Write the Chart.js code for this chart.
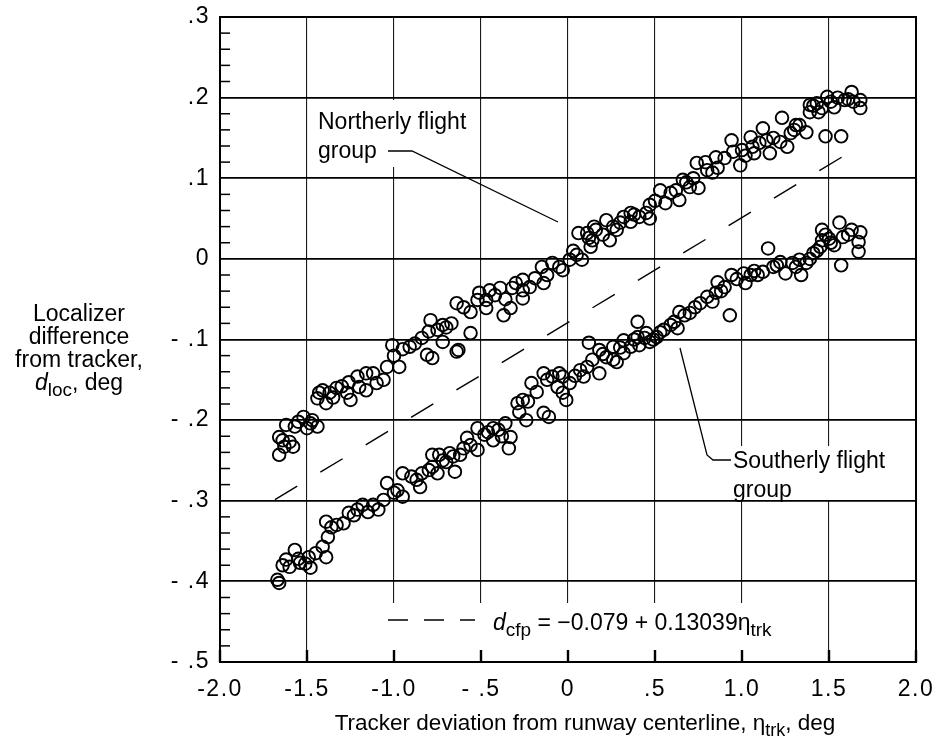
<!DOCTYPE html>
<html>
<head>
<meta charset="utf-8">
<title>Localizer difference from tracker</title>
<script src="https://cdn.jsdelivr.net/npm/chart.js"></script>
<style>
  body { margin: 0; background: #fff; }
  #wrap { width: 942px; height: 750px; }
</style>
</head>
<body>
<div id="wrap"><canvas id="scatter"></canvas></div>
<script>
// tick labels, bottom to top for y
var xTickLabels = ['-2.0', '-1.5', '-1.0', '- .5', '0', '.5', '1.0', '1.5', '2.0'];
var yTickLabels = ['- .5', '- .4', '- .3', '- .2', '- .1', '0', '.1', '.2', '.3'];

// northerly flight group (eta_trk, d_loc)
var northEta = [0.06, 0.12, 0.05, 0.01, -0.09, -0.03, -0.15, -0.19, -0.26, -0.14, -0.26, -0.32, -0.39, -0.45, -0.51, -0.47, -0.52, -0.64, -0.56, -0.47, -0.37, -0.33, -0.26, -0.56, -0.79, -0.72, -0.67, -0.75, -0.84, -0.72, -0.63, -1.01, -0.91,
  -0.97, -1.04, -0.81, -0.64, -0.78, -1.12, -1.10, -1.16, -1.21, -1.26, -1.20, -1.27, -1.33, -1.37, -1.43, -1.39, -1.25, -1.44, -1.41, -1.16, -1.06, -1.52, -1.48, -1.55, -1.44, -1.62, -1.66, -1.60, -1.58, -1.66, -1.63,
  0.11, 0.14, 0.16, 0.24, 0.22, 0.28, 0.36, 0.41, 0.47, 0.47, 0.53, 0.56, 0.59, 0.64, 0.66, 0.70, 0.75, 0.74, 0.79, 0.85, 0.86, 0.83, 0.94, 0.95, 0.99, 1.05, 1.06, 1.07, 1.12, 1.14, 1.16, 1.22, 1.23, 1.26, 1.28, 1.33, 1.37, 1.39, 1.43, 1.44, 1.48, 1.49, 1.53, 1.57, 1.59, 1.63, 1.68, 1.68, 1.64, 1.39, 1.46, 1.31, 1.10, 0.08, 0.13, 0.15, 0.32, 0.36, 0.45,
  -0.30, -0.22, -0.12, -0.05, 0.03, -0.42, -0.36, -0.60, -0.70, -0.80, -0.88, -0.95, -1.00, -1.30, -1.35, -1.47, -1.50, -1.57, -1.64,
  0.20, 0.26, 0.30, 0.38, 0.50, 0.62, 0.68, 0.72, 0.80, 0.90, 1.00, 1.02, 1.18, 1.30, 1.41, 1.51, 1.55, 1.61];
var northDloc = [0.032, 0.026, 0.005, -0.001, -0.005, -0.014, -0.010, -0.024, -0.026, -0.030, -0.039, -0.036, -0.036, -0.039, -0.042, -0.051, -0.051, -0.055, -0.066, -0.061, -0.070, -0.061, -0.049, -0.092, -0.076, -0.082, -0.080, -0.088, -0.098, -0.103, -0.113, -0.107, -0.109,
  -0.134, -0.134, -0.119, -0.115, -0.123, -0.142, -0.154, -0.142, -0.146, -0.153, -0.159, -0.166, -0.160, -0.166, -0.166, -0.179, -0.175, -0.173, -0.163, -0.163, -0.150, -0.196, -0.204, -0.202, -0.208, -0.206, -0.221, -0.227, -0.233, -0.243, -0.233,
  0.032, 0.023, 0.036, 0.023, 0.048, 0.036, 0.057, 0.052, 0.067, 0.050, 0.085, 0.069, 0.082, 0.073, 0.098, 0.089, 0.088, 0.119, 0.120, 0.126, 0.113, 0.107, 0.147, 0.133, 0.116, 0.151, 0.139, 0.131, 0.162, 0.147, 0.131, 0.145, 0.175, 0.139, 0.156, 0.166, 0.157, 0.182, 0.193, 0.182, 0.152, 0.201, 0.188, 0.152, 0.197, 0.207, 0.197, 0.187, 0.195, 0.191, 0.187, 0.166, 0.144, -0.001, 0.015, 0.040, 0.052, 0.046, 0.057,
  -0.030, -0.035, -0.020, -0.010, 0.010, -0.045, -0.050, -0.060, -0.085, -0.090, -0.105, -0.112, -0.120, -0.158, -0.172, -0.200, -0.210, -0.208, -0.225,
  0.030, 0.040, 0.045, 0.055, 0.072, 0.085, 0.095, 0.100, 0.110, 0.125, 0.135, 0.128, 0.150, 0.160, 0.190, 0.195, 0.200, 0.198];

// southerly flight group (eta_trk, d_loc)
var southEta = [-1.67, -1.66, -1.62, -1.60, -1.57, -1.54, -1.49, -1.48, -1.39, -1.41, -1.38, -1.39, -1.36, -1.29, -1.26, -1.21, -1.18, -1.15, -1.09, -1.06, -1.04, -0.98, -0.95, -0.95, -0.87, -0.85, -0.84, -0.78, -0.75, -0.78, -0.74, -0.68, -0.62, -0.65, -0.70, -0.58, -0.56, -0.52, -0.52, -0.48, -0.43, -0.43, -0.36, -0.33, -0.34, -0.29, -0.26, -0.23, -0.21, -0.24, -0.14, -0.11, -0.14, -0.09, -0.05, -0.06, -0.03, -0.01, 0.01, 0.07, 0.09, -0.03,
  0.18, 0.26, 0.32, 0.40, 0.40, 0.45, 0.51, 0.53, 0.59, 0.63, 0.64, 0.70, 0.73, 0.80, 0.83, 0.85, 0.86, 0.90, 0.93, 0.94, 1.01, 1.02, 1.05, 1.09, 1.12, 1.15, 1.18, 1.22, 1.25, 1.29, 1.34, 1.33, 1.37, 1.41, 1.45, 1.46, 1.48, 1.51, 1.53, 1.56, 1.57, 1.58, 1.63, 1.68, 1.67, 1.67, 1.46, 0.12, 0.11, 0.18, 0.22, 0.26, 0.32, 0.36, 0.41, 0.47, 0.28,
  -1.64, -1.55, -1.51, -1.45, -1.33, -1.23, -1.12, -1.00, -0.90, -0.80, -0.72, -0.66, -0.60, -0.46, -0.40, -0.38, -0.28, -0.18, -0.12, 0.04, 0.14, 0.20, 0.30, 0.38, 0.44, 0.49, 0.55, 0.61, 0.67, 0.76, 0.88, 0.97, 1.07, 1.20, 1.31, 1.39, 1.43, 1.50, 1.61];
var southDloc = [-0.398, -0.402, -0.373, -0.382, -0.361, -0.377, -0.370, -0.383, -0.370, -0.357, -0.345, -0.326, -0.333, -0.328, -0.315, -0.311, -0.305, -0.314, -0.311, -0.299, -0.278, -0.287, -0.295, -0.266, -0.274, -0.283, -0.266, -0.258, -0.266, -0.243, -0.243, -0.241, -0.243, -0.264, -0.252, -0.222, -0.231, -0.210, -0.237, -0.218, -0.225, -0.210, -0.204, -0.221, -0.235, -0.179, -0.175, -0.177, -0.154, -0.200, -0.191, -0.196, -0.142, -0.146, -0.142, -0.159, -0.166, -0.175, -0.154, -0.138, -0.146, -0.146,
  -0.113, -0.109, -0.101, -0.078, -0.097, -0.092, -0.097, -0.091, -0.082, -0.086, -0.066, -0.067, -0.060, -0.047, -0.053, -0.042, -0.029, -0.035, -0.070, -0.020, -0.018, -0.030, -0.020, -0.020, -0.016, 0.013, -0.010, -0.004, -0.018, -0.005, -0.020, -0.001, -0.005, 0.007, 0.015, 0.036, 0.030, 0.020, 0.017, 0.045, -0.008, 0.027, 0.036, 0.033, 0.021, 0.009, 0.023, -0.104, -0.134, -0.142, -0.122, -0.125, -0.117, -0.109, -0.107, -0.103, -0.128,
  -0.380, -0.372, -0.378, -0.365, -0.330, -0.318, -0.305, -0.290, -0.270, -0.262, -0.250, -0.245, -0.235, -0.215, -0.212, -0.220, -0.190, -0.165, -0.150, -0.145, -0.125, -0.118, -0.110, -0.100, -0.098, -0.100, -0.088, -0.078, -0.070, -0.055, -0.040, -0.025, -0.015, -0.008, -0.010, 0.000, 0.010, 0.025, 0.030];

// fitted line d_cfp = a + b * eta_trk, drawn over this range
var fitA = -0.079;
var fitB = 0.13039;
var fitRange = [-1.684, 1.576];

var FONT = '"Liberation Sans", Arial, Helvetica, sans-serif';

function pairs(xs, ys) {
  var out = [];
  for (var i = 0; i < xs.length; i++) out.push({ x: xs[i], y: ys[i] });
  return out;
}

var fitPoints = fitRange.map(function (e) { return { x: e, y: fitA + fitB * e }; });

// text made of runs: plain, italic or subscript
function runFont(r, size) {
  return (r.italic ? 'italic ' : '') + (r.sub ? Math.round(size * 0.82) : size) + 'px ' + FONT;
}
function drawRuns(ctx, runs, x, y, size, align) {
  var total = 0;
  runs.forEach(function (r) { ctx.font = runFont(r, size); r.w = ctx.measureText(r.t).width; total += r.w; });
  var cx = align === 'center' ? x - total / 2 : x;
  ctx.textAlign = 'left';
  ctx.textBaseline = 'alphabetic';
  runs.forEach(function (r) {
    ctx.font = runFont(r, size);
    ctx.fillText(r.t, cx, y + (r.sub ? 6 : 0));
    cx += r.w;
  });
}

function line(ctx, pts, w) {
  ctx.beginPath();
  ctx.moveTo(pts[0][0], pts[0][1]);
  for (var i = 1; i < pts.length; i++) ctx.lineTo(pts[i][0], pts[i][1]);
  ctx.lineWidth = w;
  ctx.stroke();
}

var decorations = {
  id: 'decorations',
  beforeDraw: function (chart) {
    chart.ctx.letterSpacing = '1.5px';
  },
  beforeDatasetsDraw: function (chart) {
    var ctx = chart.ctx;
    var area = chart.chartArea;
    var xs = chart.scales.x, ys = chart.scales.y;
    ctx.save();
    ctx.letterSpacing = '0px';
    ctx.strokeStyle = '#000';
    ctx.fillStyle = '#000';

    // minor ticks on the left axis
    for (var k = -24; k <= 14; k++) {
      if (k % 5 === 0) continue;
      var py = ys.getPixelForValue(k * 0.02);
      line(ctx, [[area.left, py], [area.left + 10, py]], 1.5);
    }
    // major ticks along the bottom
    xs.ticks.forEach(function (t) {
      var px = xs.getPixelForValue(t.value);
      line(ctx, [[px, area.bottom], [px, area.bottom - 12]], 2.4);
    });

    // white boxes behind the notes
    ctx.fillStyle = '#fff';
    ctx.fillRect(314, 100, 163, 67);
    ctx.fillRect(727, 446, 168, 54);
    ctx.fillRect(384, 603, 418, 47);
    ctx.fillStyle = '#000';

    // frame
    ctx.lineWidth = 2;
    ctx.strokeRect(area.left, area.top, area.right - area.left, area.bottom - area.top);

    // notes and leaders
    drawRuns(ctx, [{ t: 'Northerly flight' }], 318, 129, 23);
    drawRuns(ctx, [{ t: 'group' }], 318, 158, 23);
    line(ctx, [[388, 151], [412, 151], [558, 222]], 1.3);

    drawRuns(ctx, [{ t: 'Southerly flight' }], 733, 468, 23);
    drawRuns(ctx, [{ t: 'group' }], 733, 497, 23);
    line(ctx, [[680, 348], [707, 455], [713, 460], [731, 460]], 1.3);

    // key for the fitted line
    ctx.setLineDash([20, 16]);
    line(ctx, [[388, 620], [475, 620]], 1.5);
    ctx.setLineDash([]);
    drawRuns(ctx, [
      { t: 'd', italic: true }, { t: 'cfp', sub: true },
      { t: ' = \u22120.079 + 0.13039\u03b7' }, { t: 'trk', sub: true }
    ], 493, 630, 23);

    // axis titles
    drawRuns(ctx, [{ t: 'Tracker deviation from runway centerline, \u03b7' }, { t: 'trk', sub: true }, { t: ', deg' }], 585, 730, 22.5, 'center');
    drawRuns(ctx, [{ t: 'Localizer' }], 79, 321, 23, 'center');
    drawRuns(ctx, [{ t: 'difference' }], 79, 344, 23, 'center');
    drawRuns(ctx, [{ t: 'from tracker,' }], 79, 367, 23, 'center');
    drawRuns(ctx, [{ t: 'd', italic: true }, { t: 'loc', sub: true }, { t: ', deg' }], 79, 390, 23, 'center');
    ctx.restore();
  }
};

var circle = {
  showLine: false,
  pointStyle: 'circle',
  pointRadius: 6.3,
  pointBorderWidth: 1.9,
  pointBorderColor: '#000',
  pointBackgroundColor: 'rgba(0,0,0,0)'
};

var chart = new Chart(document.getElementById('scatter'), {
  type: 'scatter',
  data: {
    datasets: [
      Object.assign({ label: 'Northerly flight group', data: pairs(northEta, northDloc) }, circle),
      Object.assign({ label: 'Southerly flight group', data: pairs(southEta, southDloc) }, circle),
      {
        label: 'd_cfp',
        data: fitPoints,
        showLine: true,
        borderColor: '#000',
        borderWidth: 1.4,
        borderDash: [26, 27],
        pointRadius: 0
      }
    ]
  },
  options: {
    responsive: true,
    maintainAspectRatio: false,
    animation: false,
    events: [],
    layout: { padding: { top: 17, right: 26, left: 0, bottom: 0 } },
    plugins: { legend: { display: false }, tooltip: { enabled: false } },
    scales: {
      x: {
        type: 'linear', min: -2, max: 2,
        afterFit: function (s) { s.height = 88; s.paddingLeft = 0; s.paddingRight = 0; },
        grid: { color: '#1a1a1a', lineWidth: 1.1, drawTicks: false },
        border: { color: '#000', width: 2 },
        ticks: {
          stepSize: 0.5, padding: 14, color: '#000', maxRotation: 0,
          font: { family: FONT, size: 23 },
          callback: function (v, i) { return xTickLabels[i]; }
        }
      },
      y: {
        type: 'linear', min: -0.5, max: 0.3,
        afterFit: function (s) { s.width = 220; s.paddingTop = 0; s.paddingBottom = 0; },
        grid: { color: '#000', lineWidth: 1.8, drawTicks: false },
        border: { color: '#000', width: 2 },
        ticks: {
          stepSize: 0.1, padding: 10, color: '#000',
          font: { family: FONT, size: 23 },
          callback: function (v, i) { return yTickLabels[i]; }
        }
      }
    }
  },
  plugins: [decorations]
});
</script>
</body>
</html>
